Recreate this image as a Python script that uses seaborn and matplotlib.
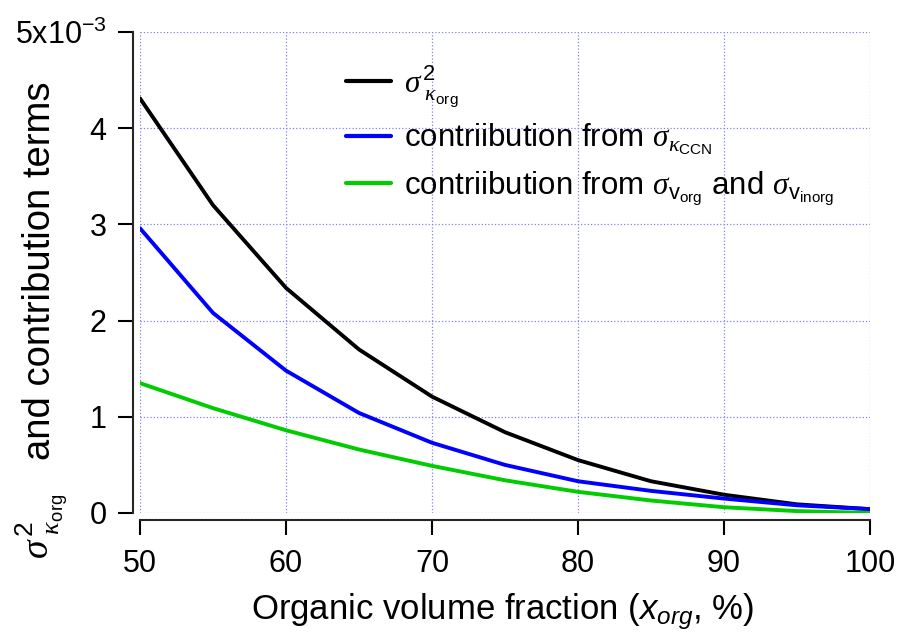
import pandas as pd
import seaborn as sns
import matplotlib.pyplot as plt

# values in units of 1e-3
x_org = [50, 55, 60, 65, 70, 75, 80, 85, 90, 95, 100]
var_korg = [4.31, 3.20, 2.34, 1.70, 1.21, 0.84, 0.55, 0.33, 0.19, 0.09, 0.04]
from_kccn = [2.96, 2.08, 1.48, 1.04, 0.73, 0.50, 0.33, 0.23, 0.15, 0.08, 0.04]
from_vol = [1.35, 1.09, 0.86, 0.66, 0.49, 0.34, 0.22, 0.13, 0.06, 0.02, 0.00]

lab_korg = r'$\mathsf{\sigma}^{\,2}_{\;\mathsf{\kappa}_{\mathrm{org}}}$'
lab_kccn = r'contriibution from $\mathsf{\sigma}_{\mathsf{\kappa}_{\mathrm{CCN}}}$'
lab_vol = (r'contriibution from $\mathsf{\sigma}_{\mathrm{v}_{\mathrm{org}}}$ and '
           r'$\mathsf{\sigma}_{\mathrm{v}_{\mathrm{inorg}}}$')
labels = [lab_korg, lab_kccn, lab_vol]
colors = ['black', '#0000ff', '#00cc00']
yticks = [0, 1, 2, 3, 4, 5]
ytick_labels = ['0', '1', '2', '3', '4', r'5x10$^{-3}$']

df = pd.concat([
    pd.DataFrame({'x': x_org, 'y': var_korg, 'term': lab_korg}),
    pd.DataFrame({'x': x_org, 'y': from_kccn, 'term': lab_kccn}),
    pd.DataFrame({'x': x_org, 'y': from_vol, 'term': lab_vol}),
])

sns.set_style("ticks")
plt.rcParams['font.family'] = ['Liberation Sans', 'DejaVu Sans']
plt.rcParams['mathtext.fontset'] = 'custom'
plt.rcParams['mathtext.rm'] = 'Liberation Sans'
plt.rcParams['mathtext.it'] = 'Liberation Sans:italic'
plt.rcParams['mathtext.sf'] = 'Liberation Serif:italic'
for k in ['text.color', 'axes.labelcolor', 'xtick.color', 'ytick.color']:
    plt.rcParams[k] = 'black'

fig = plt.figure(figsize=(9.02, 6.32), dpi=100)
ax = fig.add_axes([140/902, 119/632, 730/902, 481/632])

sns.lineplot(data=df, x='x', y='y', hue='term', hue_order=labels,
             palette=dict(zip(labels, colors)), linewidth=2.8, ax=ax)

ax.set_xlim(50, 100)
ax.set_ylim(0, 5)
ax.set_xticks([50, 60, 70, 80, 90, 100])
ax.set_yticks(yticks)
ax.set_yticklabels(ytick_labels)
ax.grid(True, color='#8080ff', linestyle=':', linewidth=0.9)

for s in ['top', 'right']:
    ax.spines[s].set_visible(False)
ax.spines['left'].set_position(('outward', 5))
ax.spines['bottom'].set_position(('outward', 5))
ax.spines['left'].set_linewidth(1.5)
ax.spines['bottom'].set_linewidth(1.5)
ax.tick_params(direction='out', length=11, width=1.5, labelsize=22)
ax.tick_params(axis='y', pad=8)
ax.tick_params(axis='x', pad=10)

ax.set_xlabel(r'Organic volume fraction ($x_{org}$, $\it{\%}$)', fontsize=25)
ax.xaxis.set_label_coords(0.497, -0.162)
ax.set_ylabel('')
fig.text(40/902, 1 - 271/632, 'and contribution terms', fontsize=27.5,
         rotation=90, ha='center', va='center')
fig.text(42/902, 1 - 526/632,
         r'$\mathsf{\sigma}^{\,2}_{\;\mathsf{\kappa}_{\mathrm{org}}}$',
         fontsize=27, rotation=90, ha='center', va='center')

sns.move_legend(ax, 'upper left', bbox_to_anchor=(346/902, 1 - 63/632),
                bbox_transform=fig.transFigure, frameon=False, title=None,
                fontsize=22.5, handlelength=1.45, handletextpad=0.4,
                labelspacing=0.4, borderpad=0, borderaxespad=0)
for h in ax.get_legend().get_lines():
    h.set_linewidth(3)

fig.savefig('out.png', dpi=100)
